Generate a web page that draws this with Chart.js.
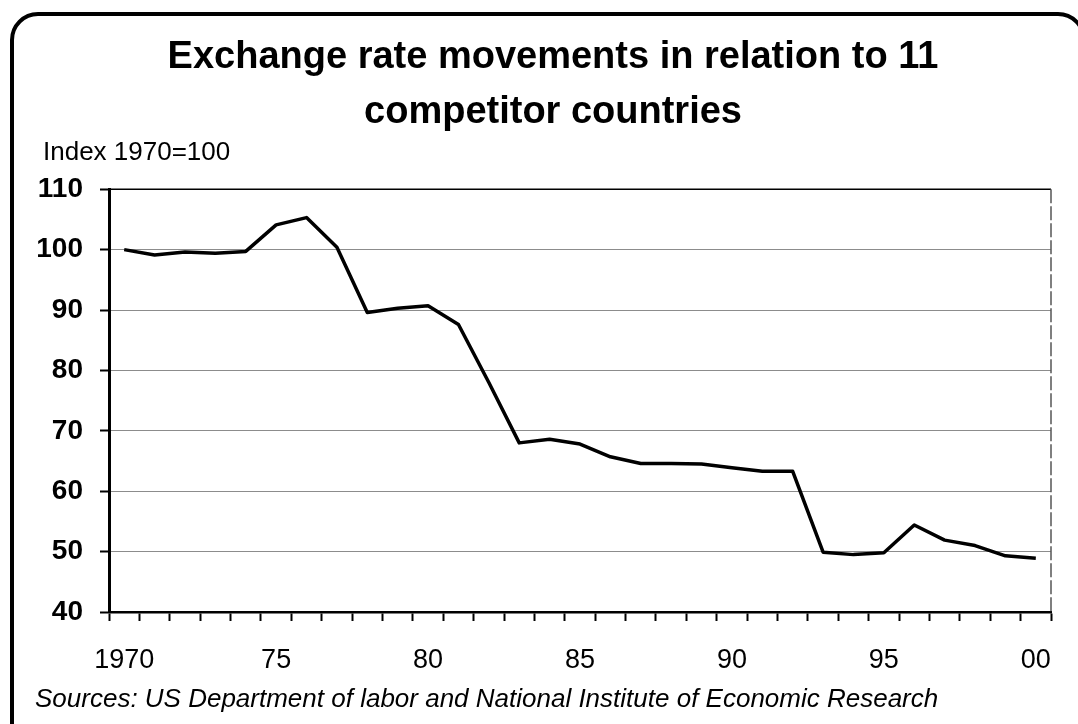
<!DOCTYPE html>
<html>
<head>
<meta charset="utf-8">
<title>Exchange rate movements</title>
<script src="https://cdn.jsdelivr.net/npm/chart.js@4/dist/chart.umd.min.js"></script>
<style>
    html, body { margin: 0; padding: 0; background: #fff; overflow: hidden; }
    #wrap { position: relative; width: 1078px; height: 724px; overflow: hidden; }
    #frame {
        position: absolute; left: 10px; top: 12px;
        width: 1068px; height: 780px;
        border: 4px solid #000; border-radius: 28px;
    }
    canvas { position: absolute; left: 0; top: 0; }
</style>
</head>
<body>
<div id="wrap">
    <div id="frame"></div>
    <canvas id="rateChart" width="1078" height="724"></canvas>
</div>
<script>
// --- data ---
const years = [
    1970, 1971, 1972, 1973, 1974, 1975, 1976, 1977, 1978, 1979,
    1980, 1981, 1982, 1983, 1984, 1985, 1986, 1987, 1988, 1989,
    1990, 1991, 1992, 1993, 1994, 1995, 1996, 1997, 1998, 1999, 2000
];
const indexValues = [
    100, 99.1, 99.6, 99.4, 99.7, 104.1, 105.3, 100.4, 89.6, 90.3,
    90.7, 87.6, 78.0, 68.0, 68.6, 67.8, 65.7, 64.6, 64.6, 64.5,
    63.9, 63.3, 63.3, 49.9, 49.5, 49.8, 54.4, 51.9, 51.0, 49.3, 48.9
];
const labeledYears = [1970, 1975, 1980, 1985, 1990, 1995, 2000];
const xTickLabels = ['1970', '75', '80', '85', '90', '95', '00'];
const yMin = 40;
const yMax = 110;
const yStep = 10;

const titleLines = ['Exchange rate movements in relation to 11', 'competitor countries'];
const yAxisLabel = 'Index 1970=100';
const sourceNote = 'Sources: US Department of labor and National Institute of Economic Research';

const FONT = '"Liberation Sans", Arial, sans-serif';

// top/right frame of the plot + the loose texts
const extraText = {
    id: 'extraText',
    afterDraw(chart) {
        const { ctx, chartArea } = chart;
        ctx.save();
        ctx.strokeStyle = '#000';
        ctx.lineWidth = 1.5;
        ctx.beginPath();
        ctx.moveTo(chartArea.left, chartArea.top);
        ctx.lineTo(chartArea.right, chartArea.top);
        ctx.stroke();
        ctx.strokeStyle = '#555';
        ctx.setLineDash([14, 3]);
        ctx.beginPath();
        ctx.moveTo(chartArea.right, chartArea.top);
        ctx.lineTo(chartArea.right, chartArea.bottom);
        ctx.stroke();
        ctx.setLineDash([]);

        ctx.fillStyle = '#000';
        ctx.textAlign = 'left';
        ctx.textBaseline = 'alphabetic';
        ctx.font = '26px ' + FONT;
        ctx.fillText(yAxisLabel, 43, 160);
        ctx.font = 'italic 26px ' + FONT;
        ctx.fillText(sourceNote, 35, 707);
        ctx.restore();
    }
};

const ctx = document.getElementById('rateChart');

new Chart(ctx, {
    type: 'line',
    data: {
        labels: years.map(String),
        datasets: [{
            label: 'Index',
            data: indexValues,
            borderColor: '#000',
            borderWidth: 3.5,
            pointRadius: 0,
            tension: 0,
            borderJoinStyle: 'round',
            fill: false
        }]
    },
    options: {
        responsive: false,
        animation: false,
        devicePixelRatio: 1,
        layout: { padding: { left: 30, right: 2, top: 0, bottom: 42 } },
        plugins: {
            legend: { display: false },
            tooltip: { enabled: false },
            title: {
                display: true,
                text: titleLines,
                color: '#000',
                font: { family: FONT, size: 38, weight: 'bold', lineHeight: 1.45 },
                padding: { top: 30, bottom: 49 }
            }
        },
        scales: {
            x: {
                offset: true,
                afterFit: (scale) => { scale.height = 70; },
                grid: {
                    offset: true,
                    drawOnChartArea: false,
                    tickLength: 9,
                    tickColor: '#000',
                    tickWidth: 2
                },
                border: { color: '#000', width: 2.5 },
                ticks: {
                    autoSkip: false,
                    maxRotation: 0,
                    padding: 23,
                    color: '#000',
                    font: { family: FONT, size: 27 },
                    callback: function(value, index) {
                        const i = labeledYears.indexOf(years[index]);
                        return i >= 0 ? xTickLabels[i] : '';
                    }
                }
            },
            y: {
                min: yMin,
                max: yMax,
                afterFit: (scale) => { scale.width = 79; },
                grid: {
                    color: (c) => (c.tick && (c.tick.value === yMin || c.tick.value === yMax)) ? 'rgba(0,0,0,0)' : '#8c8c8c',
                    lineWidth: 1,
                    tickLength: 9,
                    tickColor: '#000',
                    tickWidth: 2
                },
                border: { color: '#000', width: 3 },
                ticks: {
                    stepSize: yStep,
                    padding: 17,
                    color: '#000',
                    font: { family: FONT, size: 28, weight: 'bold' }
                }
            },
            // empty spacer on the right so the title centres like the original
            spacer: {
                axis: 'y',
                position: 'right',
                min: yMin,
                max: yMax,
                afterFit: (scale) => { scale.width = 25; },
                grid: { display: false },
                border: { display: false },
                ticks: { display: false }
            }
        }
    },
    plugins: [extraText]
});
</script>
</body>
</html>
